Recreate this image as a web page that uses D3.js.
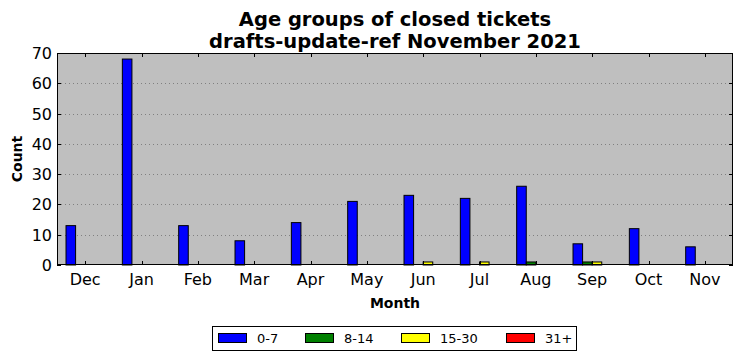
<!DOCTYPE html>
<html><head><meta charset="utf-8">
<script src="https://cdn.jsdelivr.net/npm/d3@7"></script>
<style>body{margin:0;background:#fff}svg{display:block}text{font-family:"DejaVu Sans",sans-serif}</style>
</head><body><svg id="c" width="742" height="361"></svg>
<script>
const months = ["Dec","Jan","Feb","Mar","Apr","May","Jun","Jul","Aug","Sep","Oct","Nov"];
const seriesNames = ["0-7","8-14","15-30","31+"];
const seriesColors = ["#0000ff","#008000","#ffff00","#ff0000"];
const s0_7   = [13,68,13,8,14,21,23,22,26,7,12,6];
const s8_14  = [0,0,0,0,0,0,0,0,1,1,0,0];
const s15_30 = [0,0,0,0,0,0,1,1,0,1,0,0];
const s31    = [0,0,0,0,0,0,0,0,0,0,0,0];
const yTicks = [0,10,20,30,40,50,60,70];
const series = [s0_7,s8_14,s15_30,s31];

const svg = d3.select("#c");
const L=57,R=733,T=53,B=265;
const w = 0.17;
const x = d3.scaleLinear().domain([-0.16, 11.84]).range([L,R]);
const y = d3.scaleLinear().domain([0,70]).range([B,T]);

svg.append("rect").attr("x",L).attr("y",T).attr("width",R-L).attr("height",B-T).attr("fill","#bfbfbf");

// grid
svg.append("g").selectAll("line").data(yTicks.slice(1,-1)).join("line")
  .attr("x1",L).attr("x2",R).attr("y1",d=>Math.round(y(d))+0.5).attr("y2",d=>Math.round(y(d))+0.5)
  .attr("stroke","#808080").attr("stroke-width",1).attr("stroke-dasharray","1,3");

// bars
series.forEach((s,k)=>{
  svg.append("g").selectAll("rect").data(s).join("rect")
    .attr("x",(d,i)=>x(i+k*w))
    .attr("width",x(w)-x(0))
    .attr("y",d=>y(d))
    .attr("height",d=>y(0)-y(d))
    .attr("fill",seriesColors[k]).attr("stroke","#000").attr("stroke-width",1);
});

// ticks inward
const tickPos = months.map((m,i)=>i+2*w);
const tg = svg.append("g").attr("stroke","#000");
tickPos.forEach(p=>{
  const px=Math.round(x(p))+0.5;
  tg.append("line").attr("x1",px).attr("x2",px).attr("y1",B).attr("y2",B-4);
  tg.append("line").attr("x1",px).attr("x2",px).attr("y1",T).attr("y2",T+4);
});
yTicks.forEach(t=>{
  const py=Math.round(y(t))+0.5;
  tg.append("line").attr("x1",L).attr("x2",L+4).attr("y1",py).attr("y2",py);
  tg.append("line").attr("x1",R).attr("x2",R-4).attr("y1",py).attr("y2",py);
});

svg.append("rect").attr("x",L+0.5).attr("y",T+0.5).attr("width",R-L-1).attr("height",B-T-1)
  .attr("fill","none").attr("stroke","#000").attr("stroke-width",1);

// tick labels
svg.append("g").selectAll("text").data(months).join("text")
  .attr("x",(d,i)=>x(tickPos[i])).attr("y",B+20).attr("text-anchor","middle")
  .attr("font-size",16).text(d=>d);
svg.append("g").selectAll("text").data(yTicks).join("text")
  .attr("x",L-5).attr("y",d=>y(d)+6).attr("text-anchor","end")
  .attr("font-size",16).text(d=>d);

// axis labels
svg.append("text").attr("x",(L+R)/2).attr("y",308).attr("text-anchor","middle")
  .attr("font-size",14).attr("font-weight","bold").text("Month");
svg.append("text").attr("transform",`translate(22,${(T+B)/2}) rotate(-90)`).attr("text-anchor","middle")
  .attr("font-size",14).attr("font-weight","bold").text("Count");

// title
svg.append("text").attr("x",(L+R)/2).attr("y",26).attr("text-anchor","middle")
  .attr("font-size",19.5).attr("font-weight","bold").text("Age groups of closed tickets");
svg.append("text").attr("x",(L+R)/2).attr("y",47.5).attr("text-anchor","middle")
  .attr("font-size",19.5).attr("font-weight","bold").text("drafts-update-ref November 2021");

// legend
const lg = svg.append("g");
lg.append("rect").attr("x",212.5).attr("y",326.5).attr("width",364).attr("height",24)
  .attr("fill","#fff").attr("stroke","#000");
const lx=[218,305,401,506];
seriesNames.forEach((n,k)=>{
  lg.append("rect").attr("x",lx[k]+0.5).attr("y",333.5).attr("width",28).attr("height",9)
    .attr("fill",seriesColors[k]).attr("stroke","#000");
  lg.append("text").attr("x",lx[k]+39).attr("y",343).attr("font-size",13).text(n);
});
</script></body></html>
